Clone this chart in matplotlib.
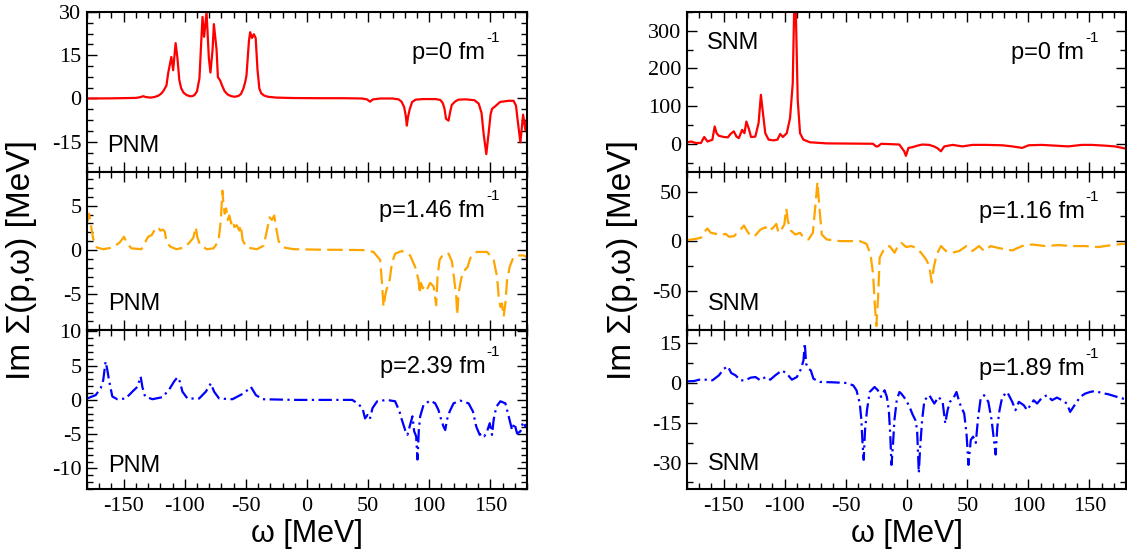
import matplotlib
matplotlib.use("Agg")
import matplotlib.pyplot as plt
from matplotlib.ticker import MultipleLocator

plt.rcParams['font.family'] = ['Liberation Serif', 'DejaVu Serif']
plt.rcParams['axes.unicode_minus'] = False

# (omega [MeV], Im Sigma [MeV]) samples for each spectrum
pnm_p0 = [(-180, 0), (-160, 0.05), (-140, 0.2), (-136, 0.5), (-134, 0.8), (-132, 0.5), (-128, 0.3),
          (-125, 0.5), (-122, 0.9), (-119.5, 1.6), (-117.5, 2.6), (-115, 4.5), (-113.5, 9), (-111, 14.4),
          (-109.5, 9.8), (-107.5, 19.2), (-106, 14), (-104.5, 6.5), (-103, 3.6), (-101, 2.0),
          (-98.5, 1.2), (-96, 0.8), (-94, 0.8), (-92, 1.2), (-90, 2.5), (-88, 7),
          (-86.5, 20), (-85.5, 28.3), (-84.2, 21.4), (-82.2, 30), (-80.3, 14), (-79, 9), (-77.3, 16.7),
          (-76.2, 25.8), (-74, 17), (-72.9, 7.4), (-71, 6.2), (-69.5, 4.5), (-67.5, 2.6), (-65, 1.4),
          (-62, 0.8), (-59, 0.6), (-56, 0.9), (-54, 1.6), (-52, 3.5), (-50.5, 5.8), (-49.5, 8),
          (-47.5, 20), (-46.5, 23), (-45, 21), (-43.5, 22.3), (-42, 21), (-40.5, 10), (-39, 3.5),
          (-37.5, 1.8), (-35, 1.0), (-32, 0.6), (-25, 0.3), (-10, 0.15), (10, 0.1), (30, 0.1),
          (45, 0.0), (49, -0.3), (51.6, -1.1), (54, -0.3), (60, 0), (70, 0), (75, -0.3), (77.5, -1.2),
          (79.5, -3), (80.8, -6), (81.7, -9.4), (82.6, -6.5), (84, -3.8), (86, -1.2), (89, -0.4),
          (95, -0.2), (105, -0.2), (109, -0.5), (111, -1.5), (112.5, -3.5), (113.7, -7), (115.8, -7.7),
          (117.2, -4.5), (118.5, -2.2), (121.3, -1.0), (124, -0.4), (130, -0.3), (137, -0.6),
          (140.5, -1.8), (142.8, -5), (144.5, -12.2), (146.7, -19.3), (148.6, -12), (150.2, -5.5),
          (151.4, -3.6), (154, -2.7), (158, -1.2), (165, -0.8), (169, -0.8), (171, -2.5), (172.4, -7.7),
          (174.6, -15.2), (176.8, -5.6), (178.7, -11), (180, -7)]

pnm_p146 = [(-180, 3.0), (-178.4, 4.1), (-176.5, 2.6), (-175, 1.3), (-172, 0.3), (-166.8, 0.1),
            (-158.6, 0.3), (-153, 0.9), (-149.7, 1.5), (-147.8, 0.9), (-143.7, 0.2), (-135.5, 0.1),
            (-130, 1.5), (-127, 1.7), (-124.6, 2.3), (-121.9, 2.6), (-120, 2.2), (-118, 2.3),
            (-116.4, 2.1), (-115, 1.0), (-112, 0.4), (-106.9, 0.1), (-100, 0.3), (-95.9, 0.9),
            (-93, 1.4), (-91, 2.6), (-89.8, 1.5), (-87.6, 0.6), (-82, 0.1), (-76.5, 0.2), (-72.4, 1.0),
            (-70.5, 3.4), (-69.2, 6.7), (-68.4, 5.2), (-67.3, 4.1), (-66.2, 4.7), (-64.9, 3.4),
            (-63.5, 3.9), (-62.1, 3.0), (-60.8, 3.4), (-59.4, 2.6), (-57.5, 2.8), (-55.3, 2.2),
            (-54.2, 2.8), (-52.6, 1.1), (-49.3, 0.3), (-41, 0.1), (-35.5, 0.5), (-32.8, 2.2),
            (-30.6, 3.7), (-28.7, 3.4), (-26.8, 3.9), (-25.1, 2.4), (-23.2, 1.0), (-19.1, 0.3),
            (-10.9, 0.1), (10, 0.05), (30, 0.03), (46, 0.0), (54.4, -0.2), (59.8, -1.1), (61.2, -3.4),
            (62.6, -6.4), (63.9, -5.2), (65.3, -4.3), (66.7, -4.1), (68, -3.0), (69.4, -1.5),
            (72.1, -0.4), (77.6, -0.1), (84.4, -0.6), (88.5, -1.9), (91.3, -3.4), (92.1, -4.9),
            (93.2, -3.7), (94.8, -4.3), (96.7, -3.9), (98.6, -4.3), (100.8, -3.7), (103.6, -4.1),
            (105.7, -6.2), (106.8, -3.0), (108.5, -1.1), (111.7, -0.4), (115.8, -0.4), (118.6, -1.3),
            (120.5, -3.4), (122.1, -5.2), (122.9, -7.3), (124, -4.9), (125.9, -3.4), (127.6, -2.4),
            (129.5, -2.2), (131.4, -1.9), (133.6, -0.9), (139, -0.2), (147.3, -0.2), (152.7, -1.1),
            (155.5, -3.0), (156.8, -5.2), (158.2, -6.4), (159.5, -6.0), (160.9, -7.5), (162.3, -6.0),
            (163.7, -3.4), (165.8, -1.9), (168.6, -0.9), (171.9, -0.6), (177.3, -0.6), (180, -0.8)]

pnm_p239 = [(-180, 0.2), (-172.9, 0.7), (-168.8, 1.7), (-166.7, 2.9), (-164.8, 5.6), (-163.4, 4.4),
            (-162, 2.9), (-159.3, 0.5), (-155.2, 0.1), (-148.4, 0.2), (-142.9, 1.2), (-138.8, 1.9),
            (-136.1, 3.4), (-134.7, 1.9), (-132.5, 0.5), (-126.5, 0.1), (-118.3, 0.4), (-112.8, 1.5),
            (-108.7, 2.7), (-106, 3.3), (-104.1, 2.7), (-101.9, 1.2), (-97.8, 0.2), (-88.3, 0.2),
            (-82.8, 1.2), (-78.7, 2.4), (-76, 1.2), (-71.9, 0.2), (-61, 0.1), (-51.4, 1.0), (-45.9, 1.9),
            (-41.8, 0.7), (-36.3, 0.1), (-10, 0.0), (20, 0.0), (37, 0.0), (41.3, -0.5), (45.4, -1.2),
            (47.5, -2.7), (49.5, -2.2), (51.4, -2.8), (53.6, -1.2), (57.4, -0.2), (65.3, 0.0),
            (72.1, -0.2), (75.7, -1.7), (77.6, -2.9), (80.3, -4.4), (82.2, -5.1), (84.4, -3.6),
            (86.3, -2.4), (87.7, -4.6), (89.3, -5.3), (90.4, -8.7), (91.5, -4.4), (92.6, -2.4),
            (95.4, -0.7), (100.8, -0.1), (104.9, -0.5), (107.6, -1.5), (109.8, -2.9), (111.7, -3.9),
            (113.1, -4.4), (114.5, -2.9), (116.7, -1.7), (119.9, -0.5), (125.4, -0.1), (132.2, -0.5),
            (135.8, -1.7), (138.5, -3.9), (141.3, -5.1), (143.2, -4.9), (145.1, -5.3), (147.3, -4.6),
            (149.5, -3.4), (151.4, -5.1), (152.7, -2.9), (154.9, -1.0), (158.2, -0.2), (162.3, -0.5),
            (165, -2.4), (167.8, -4.4), (169.7, -3.4), (171.9, -4.9), (174.6, -4.6), (176.8, -3.2),
            (178.7, -3.9), (180, -3.5)]

snm_p0 = [(-180, 3.5), (-176.8, 6), (-172.7, 2), (-168.6, 2), (-165.9, 18), (-163.2, 6), (-159.2, 10.6),
          (-157.3, 46), (-155.7, 28), (-153.8, 21), (-149.7, 18), (-146.5, 17), (-144.3, 26),
          (-141.6, 33), (-139.4, 19), (-137.5, 15), (-134.8, 37), (-132.9, 28), (-131.3, 59),
          (-129.4, 41), (-127.5, 18), (-124, 19), (-121.3, 55), (-119.4, 130), (-117.7, 81),
          (-115.8, 28), (-113.1, 11), (-109, 9), (-105.8, 11), (-103.6, 26), (-101.4, 18), (-98.2, 28),
          (-95.5, 68), (-93.3, 160), (-92.2, 345), (-91.4, 430), (-90.6, 328), (-89.2, 116),
          (-87.3, 28), (-84.6, 11), (-79.2, 4), (-65.6, 1), (-27.6, 0), (-24.9, -7), (-23.5, -7),
          (-20.8, 0), (-5.9, -2), (-1.9, -20), (-0.5, -32), (1.6, -11), (4.9, -9), (9, -5), (13, -2),
          (18.6, -3), (22.5, -7), (25.5, -12), (28.2, -20), (31, -7), (37.8, -3), (45.9, -7), (54, -3),
          (65, -3), (78.5, -4), (86.7, -7), (94.8, -11), (100.2, -4), (111, -3), (121.9, -5),
          (132.8, -7), (143.7, -3), (151.9, -3), (162.7, -5), (170.9, -7), (180, -13)]

snm_p116 = [(-180, 1), (-172.7, 2.3), (-168.6, 3.4), (-165.4, 10), (-163.2, 12.8), (-160.5, 8.4),
            (-156.4, 7.4), (-152.4, 6), (-148.3, 7.4), (-145.5, 4.4), (-141.5, 5), (-138.8, 8.4),
            (-136.1, 11.7), (-133.3, 15.8), (-130.6, 10), (-127.9, 5), (-123.8, 6), (-119.8, 11.7),
            (-115.7, 14), (-113, 10), (-109.5, 13.4), (-106.8, 17.4), (-104.9, 8.4), (-102.1, 12.8),
            (-100.2, 16.8), (-98.6, 33), (-97.2, 20), (-94.8, 10.7), (-91.2, 6.7), (-87.2, 8.4),
            (-84.4, 3.4), (-80.4, 1.7), (-76.8, 8.4), (-74.9, 33.6), (-73, 60), (-71.4, 33.6),
            (-69.5, 6.7), (-65.4, 1.7), (-54.5, 0), (-38.2, 0), (-32.8, -2.7), (-29.5, -13.4),
            (-27.4, -33.6), (-26, -63.8), (-24.7, -86), (-23.3, -57), (-22, -16.8), (-17.9, -6.7),
            (-13.9, -5), (-9.8, -11.7), (-7.1, -5), (-4.3, -1.7), (-0.3, -6), (3.8, -5), (7.9, -6.7),
            (11.9, -11.7), (16, -18.5), (18.7, -25), (20.7, -42), (22.3, -27), (24.7, -13.4),
            (28.3, -5), (32.3, -10), (37.8, -11.7), (43.2, -10), (49.2, -5), (54.1, -10), (59.5, -5),
            (63.6, -10), (69, -5), (74.5, -6.7), (81.3, -8.4), (86.7, -9.4), (94.8, -5), (103, -3.4),
            (113.8, -5), (124.7, -4), (135.6, -5), (146.5, -5), (157.3, -6), (168.2, -4),
            (178.5, -2.7), (180, -2.7)]

snm_p189 = [(-180, 0.6), (-174.1, 0.75), (-170, 1.25), (-164.6, 1.25), (-159.2, 1), (-153.8, 2.9),
            (-149.7, 5.4), (-146.5, 6.25), (-143.7, 3.75), (-140.2, 2.9), (-136.1, 1), (-132, 1),
            (-128, 2), (-123.9, 2.25), (-119.8, 1), (-115.7, 2.25), (-111.7, 1.25), (-107.6, 2.9),
            (-102.1, 4.75), (-98.1, 3.5), (-94, 1.25), (-89.9, 2.25), (-86.4, 5.4), (-84.5, 8.5),
            (-83.4, 15), (-82.3, 7.25), (-80.4, 5.4), (-78.5, 4.75), (-76.3, 1.6), (-70.9, 0.4),
            (-60, 0.25), (-49.2, 0), (-43.7, -0.9), (-41, -2.75), (-38.3, -7.75), (-37, -14),
            (-36.2, -21.5), (-35.1, -29), (-34, -17.75), (-32.4, -10.25), (-30.2, -3.4), (-26.2, -1.5),
            (-23.5, -2.75), (-20.8, -5.25), (-18, -2.75), (-16.1, -5.25), (-14.5, -10.25),
            (-13.4, -19), (-12.3, -30.9), (-11.2, -24), (-9.9, -14), (-8, -6.5), (-5.8, -3.4),
            (-4.3, -4), (-0.3, -6.4), (3, -9.6), (5.2, -12.1), (7.3, -14), (8.7, -17.75), (10.1, -34),
            (11.1, -25), (12.8, -14), (14.7, -6.5), (18.7, -4.6), (22.8, -7.75), (26.3, -5.25),
            (29.6, -7.1), (31.8, -15.25), (33.7, -10.25), (35.6, -7.1), (38.3, -5.9), (41, -3.4),
            (43.7, -7.75), (47.3, -11.5), (49.2, -19), (50.8, -30.9), (52.7, -21.5), (54.6, -20.25),
            (56.8, -22.6), (58.8, -12.75), (60.8, -5.9), (63.6, -4.6), (67.1, -7.1), (69.8, -14),
            (71.7, -21.5), (73.1, -27), (74.5, -16.5), (76.3, -10.25), (78.5, -5.25), (82.6, -3.4),
            (86.7, -7.1), (89.4, -10.25), (92.1, -7.1), (96.2, -8.4), (98.9, -10.25), (101.6, -8.4),
            (104.3, -6.5), (107.1, -7.75), (111.2, -5.5), (115.2, -4.6), (119.3, -6.5), (123.4, -5.5),
            (127.5, -6.5), (131.5, -7.75), (134.2, -10.9), (136.9, -9), (139.7, -7.1), (142.4, -5.25),
            (146.5, -4), (150.5, -3.4), (154.6, -3), (160, -3.75), (165.5, -4.25), (170.9, -5),
            (177.7, -5.9), (180, -6)]

momenta_pnm = ["0", "1.46", "2.39"]
momenta_snm = ["0", "1.16", "1.89"]

W, H = 1127, 550
fig = plt.figure(figsize=(W / 100, H / 100), dpi=100)

cols = [(87, 527), (687, 1126)]
rows = [(12, 172), (172, 330), (330, 489)]

red, orange, blue = '#ff0000', '#ffa500', '#0000ff'
styles = [dict(color=red, lw=1.6, ls='-'),
          dict(color=orange, lw=1.6, ls=(0, (7, 2.8))),
          dict(color=blue, lw=1.6, ls=(0, (6, 2, 1, 2)))]

panels = [
    # column, row, data, ylim, major, minor, momentum, matter label pos, p label baseline
    (0, 0, pnm_p0, (-25.5, 30), 15, 3.75, momenta_pnm[0], "PNM", (0.046, 0.125), 0.706),
    (0, 1, pnm_p146, (-9, 8.8), 5, 1, momenta_pnm[1], "PNM", (0.048, 0.127), 0.715),
    (0, 2, pnm_p239, (-13, 10.2), 5, 1, momenta_pnm[2], "PNM", (0.048, 0.107), 0.73),
    (1, 0, snm_p0, (-75, 350), 100, 50, momenta_snm[0], "SNM", (0.046, 0.77), 0.706),
    (1, 1, snm_p116, (-90, 70), 50, 25, momenta_snm[1], "SNM", (0.048, 0.127), 0.709),
    (1, 2, snm_p189, (-40, 20), 15, 7.5, momenta_snm[2], "SNM", (0.048, 0.12), 0.717),
]

sans = ['Liberation Sans', 'DejaVu Sans']

for c, r, data, ylim, major, minor, p, matter, mpos, pbase in panels:
    x0, x1 = cols[c]
    top, bot = rows[r]
    ax = fig.add_axes([x0 / W, 1 - bot / H, (x1 - x0) / W, (bot - top) / H])
    w = [d[0] for d in data]
    s = [d[1] for d in data]
    ax.plot(w, s, **styles[r])
    ax.set_xlim(-180, 180)
    ax.set_ylim(*ylim)
    ax.xaxis.set_major_locator(MultipleLocator(50))
    ax.xaxis.set_minor_locator(MultipleLocator(10))
    ax.yaxis.set_major_locator(MultipleLocator(major))
    ax.yaxis.set_minor_locator(MultipleLocator(minor))
    ax.tick_params(which='both', direction='in', top=True, right=True, width=1.0, labelsize=16)
    ax.tick_params(which='major', length=7)
    ax.tick_params(which='minor', length=4)
    ax.tick_params(axis='y', pad=4)
    ax.tick_params(axis='x', pad=6)
    if r < 2:
        ax.tick_params(axis='x', labelbottom=False)
    for sp in ax.spines.values():
        sp.set_linewidth(1.5)
    ax.text(mpos[0], mpos[1], matter, transform=ax.transAxes, ha='left', va='baseline',
            fontsize=17, family=sans)
    ax.text(0.905, pbase, f"p={p} fm", transform=ax.transAxes, ha='right', va='baseline',
            fontsize=17, family=sans)
    ax.annotate("-1", xy=(0.905, pbase), xycoords='axes fraction', xytext=(1, 12),
                textcoords='offset points', ha='left', va='baseline', fontsize=11, family=sans)

ylab = "Im \u03a3(p,\u03c9) [MeV]"
fig.text(22 / W, 1 - 260 / H, ylab, rotation=90, ha='center', va='center', fontsize=24, family=sans)
fig.text(623 / W, 1 - 260 / H, ylab, rotation=90, ha='center', va='center', fontsize=24, family=sans)
fig.text(307 / W, 1 - 542 / H, "\u03c9 [MeV]", ha='center', va='baseline', fontsize=22, family=sans)
fig.text(907 / W, 1 - 542 / H, "\u03c9 [MeV]", ha='center', va='baseline', fontsize=22, family=sans)

fig.savefig("out.png", dpi=100)
